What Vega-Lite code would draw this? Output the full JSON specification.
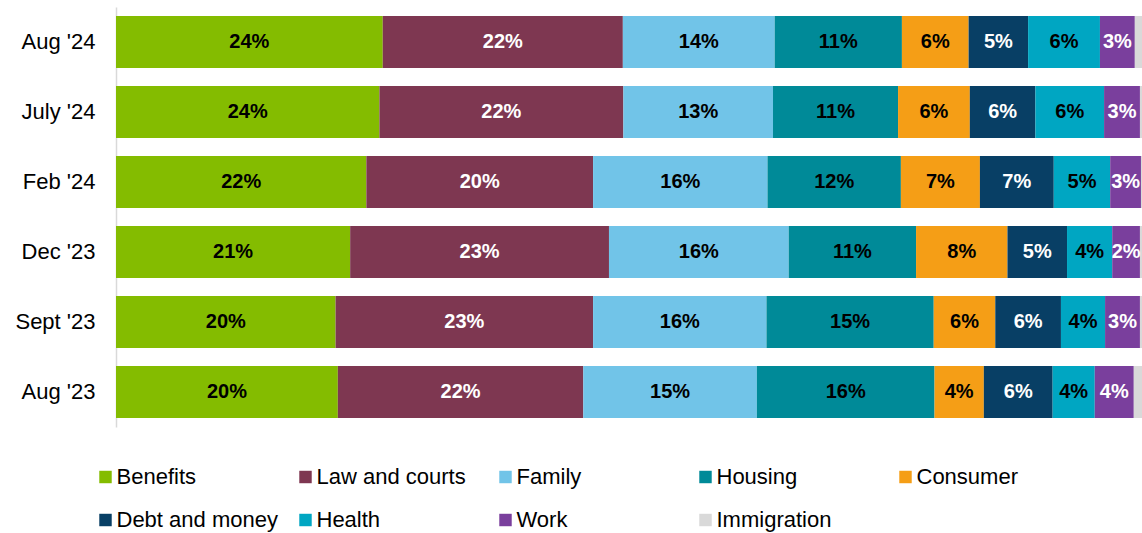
{
  "$schema": "https://vega.github.io/schema/vega-lite/v6.json",
  "width": 1026,
  "height": 420,
  "autosize": {"type": "none"},
  "padding": {"left": 116, "top": 7, "right": 0, "bottom": 106},
  "config": {"view": {"stroke": null}, "font": "Liberation Sans"},
  "data": {
    "values": [
      {"m": "Aug '24", "cat": "Benefits", "n": 1, "v": 26.0, "label": "24%"},
      {"m": "Aug '24", "cat": "Law and courts", "n": 2, "v": 23.4, "label": "22%"},
      {"m": "Aug '24", "cat": "Family", "n": 3, "v": 14.8, "label": "14%"},
      {"m": "Aug '24", "cat": "Housing", "n": 4, "v": 12.4, "label": "11%"},
      {"m": "Aug '24", "cat": "Consumer", "n": 5, "v": 6.5, "label": "6%"},
      {"m": "Aug '24", "cat": "Debt and money", "n": 6, "v": 5.8, "label": "5%"},
      {"m": "Aug '24", "cat": "Health", "n": 7, "v": 7.0, "label": "6%"},
      {"m": "Aug '24", "cat": "Work", "n": 8, "v": 3.4, "label": "3%"},
      {"m": "Aug '24", "cat": "Immigration", "n": 9, "v": 0.7, "label": ""},

      {"m": "July '24", "cat": "Benefits", "n": 1, "v": 25.7, "label": "24%"},
      {"m": "July '24", "cat": "Law and courts", "n": 2, "v": 23.8, "label": "22%"},
      {"m": "July '24", "cat": "Family", "n": 3, "v": 14.6, "label": "13%"},
      {"m": "July '24", "cat": "Housing", "n": 4, "v": 12.2, "label": "11%"},
      {"m": "July '24", "cat": "Consumer", "n": 5, "v": 7.0, "label": "6%"},
      {"m": "July '24", "cat": "Debt and money", "n": 6, "v": 6.4, "label": "6%"},
      {"m": "July '24", "cat": "Health", "n": 7, "v": 6.7, "label": "6%"},
      {"m": "July '24", "cat": "Work", "n": 8, "v": 3.5, "label": "3%"},
      {"m": "July '24", "cat": "Immigration", "n": 9, "v": 0.2, "label": ""},

      {"m": "Feb '24", "cat": "Benefits", "n": 1, "v": 24.4, "label": "22%"},
      {"m": "Feb '24", "cat": "Law and courts", "n": 2, "v": 22.1, "label": "20%"},
      {"m": "Feb '24", "cat": "Family", "n": 3, "v": 17.0, "label": "16%"},
      {"m": "Feb '24", "cat": "Housing", "n": 4, "v": 13.0, "label": "12%"},
      {"m": "Feb '24", "cat": "Consumer", "n": 5, "v": 7.7, "label": "7%"},
      {"m": "Feb '24", "cat": "Debt and money", "n": 6, "v": 7.2, "label": "7%"},
      {"m": "Feb '24", "cat": "Health", "n": 7, "v": 5.5, "label": "5%"},
      {"m": "Feb '24", "cat": "Work", "n": 8, "v": 3.0, "label": "3%"},
      {"m": "Feb '24", "cat": "Immigration", "n": 9, "v": 0.1, "label": ""},

      {"m": "Dec '23", "cat": "Benefits", "n": 1, "v": 22.8, "label": "21%"},
      {"m": "Dec '23", "cat": "Law and courts", "n": 2, "v": 25.2, "label": "23%"},
      {"m": "Dec '23", "cat": "Family", "n": 3, "v": 17.5, "label": "16%"},
      {"m": "Dec '23", "cat": "Housing", "n": 4, "v": 12.4, "label": "11%"},
      {"m": "Dec '23", "cat": "Consumer", "n": 5, "v": 8.9, "label": "8%"},
      {"m": "Dec '23", "cat": "Debt and money", "n": 6, "v": 5.8, "label": "5%"},
      {"m": "Dec '23", "cat": "Health", "n": 7, "v": 4.4, "label": "4%"},
      {"m": "Dec '23", "cat": "Work", "n": 8, "v": 2.7, "label": "2%"},
      {"m": "Dec '23", "cat": "Immigration", "n": 9, "v": 0.2, "label": ""},

      {"m": "Sept '23", "cat": "Benefits", "n": 1, "v": 21.4, "label": "20%"},
      {"m": "Sept '23", "cat": "Law and courts", "n": 2, "v": 25.1, "label": "23%"},
      {"m": "Sept '23", "cat": "Family", "n": 3, "v": 16.9, "label": "16%"},
      {"m": "Sept '23", "cat": "Housing", "n": 4, "v": 16.3, "label": "15%"},
      {"m": "Sept '23", "cat": "Consumer", "n": 5, "v": 6.0, "label": "6%"},
      {"m": "Sept '23", "cat": "Debt and money", "n": 6, "v": 6.4, "label": "6%"},
      {"m": "Sept '23", "cat": "Health", "n": 7, "v": 4.3, "label": "4%"},
      {"m": "Sept '23", "cat": "Work", "n": 8, "v": 3.4, "label": "3%"},
      {"m": "Sept '23", "cat": "Immigration", "n": 9, "v": 0.2, "label": ""},

      {"m": "Aug '23", "cat": "Benefits", "n": 1, "v": 21.6, "label": "20%"},
      {"m": "Aug '23", "cat": "Law and courts", "n": 2, "v": 23.9, "label": "22%"},
      {"m": "Aug '23", "cat": "Family", "n": 3, "v": 16.9, "label": "15%"},
      {"m": "Aug '23", "cat": "Housing", "n": 4, "v": 17.3, "label": "16%"},
      {"m": "Aug '23", "cat": "Consumer", "n": 5, "v": 4.8, "label": "4%"},
      {"m": "Aug '23", "cat": "Debt and money", "n": 6, "v": 6.7, "label": "6%"},
      {"m": "Aug '23", "cat": "Health", "n": 7, "v": 4.1, "label": "4%"},
      {"m": "Aug '23", "cat": "Work", "n": 8, "v": 3.8, "label": "4%"},
      {"m": "Aug '23", "cat": "Immigration", "n": 9, "v": 0.8, "label": ""}
    ]
  },
  "encoding": {
    "y": {
      "field": "m",
      "type": "nominal",
      "sort": ["Aug '24", "July '24", "Feb '24", "Dec '23", "Sept '23", "Aug '23"],
      "title": null,
      "scale": {"paddingInner": 0.257, "paddingOuter": 0.1285},
      "axis": {
        "ticks": false,
        "domainColor": "#D9D9D9",
        "domainWidth": 1.5,
        "labelFontSize": 22,
        "labelColor": "#000000",
        "labelPadding": 21,
        "labelFont": "Liberation Sans"
      }
    },
    "x": {
      "field": "v",
      "type": "quantitative",
      "stack": "normalize",
      "axis": null,
      "scale": {"nice": false}
    },
    "order": {"field": "n", "type": "quantitative"}
  },
  "layer": [
    {
      "mark": {"type": "bar"},
      "encoding": {
        "color": {
          "field": "cat",
          "type": "nominal",
          "scale": {
            "domain": ["Benefits", "Law and courts", "Family", "Housing", "Consumer", "Debt and money", "Health", "Work", "Immigration"],
            "range": ["#84BC00", "#7E3751", "#71C4E8", "#008A98", "#F59E16", "#083F65", "#00A6C2", "#7A3F9D", "#D9D9D9"]
          },
          "legend": {
            "title": null,
            "orient": "none",
            "legendX": -21.5,
            "legendY": 459,
            "direction": "horizontal",
            "columns": 5,
            "gridAlign": "all",
            "symbolType": "square",
            "symbolSize": 155,
            "symbolStrokeWidth": 0,
            "labelFontSize": 22,
            "labelFont": "Liberation Sans",
            "labelColor": "#000000",
            "labelOffset": 0,
            "labelLimit": 400,
            "columnPadding": 16,
            "rowPadding": 21
          }
        }
      }
    },
    {
      "mark": {"type": "text", "fontSize": 20, "fontWeight": "bold", "font": "Liberation Sans", "baseline": "middle", "align": "center"},
      "encoding": {
        "x": {"field": "v", "type": "quantitative", "stack": "normalize", "bandPosition": 0.5},
        "detail": {"field": "cat"},
        "text": {"field": "label"},
        "color": {
          "condition": {"test": "indexof(['Law and courts','Debt and money','Work'], datum.cat) >= 0", "value": "#FFFFFF"},
          "value": "#000000"
        }
      }
    }
  ]
}
